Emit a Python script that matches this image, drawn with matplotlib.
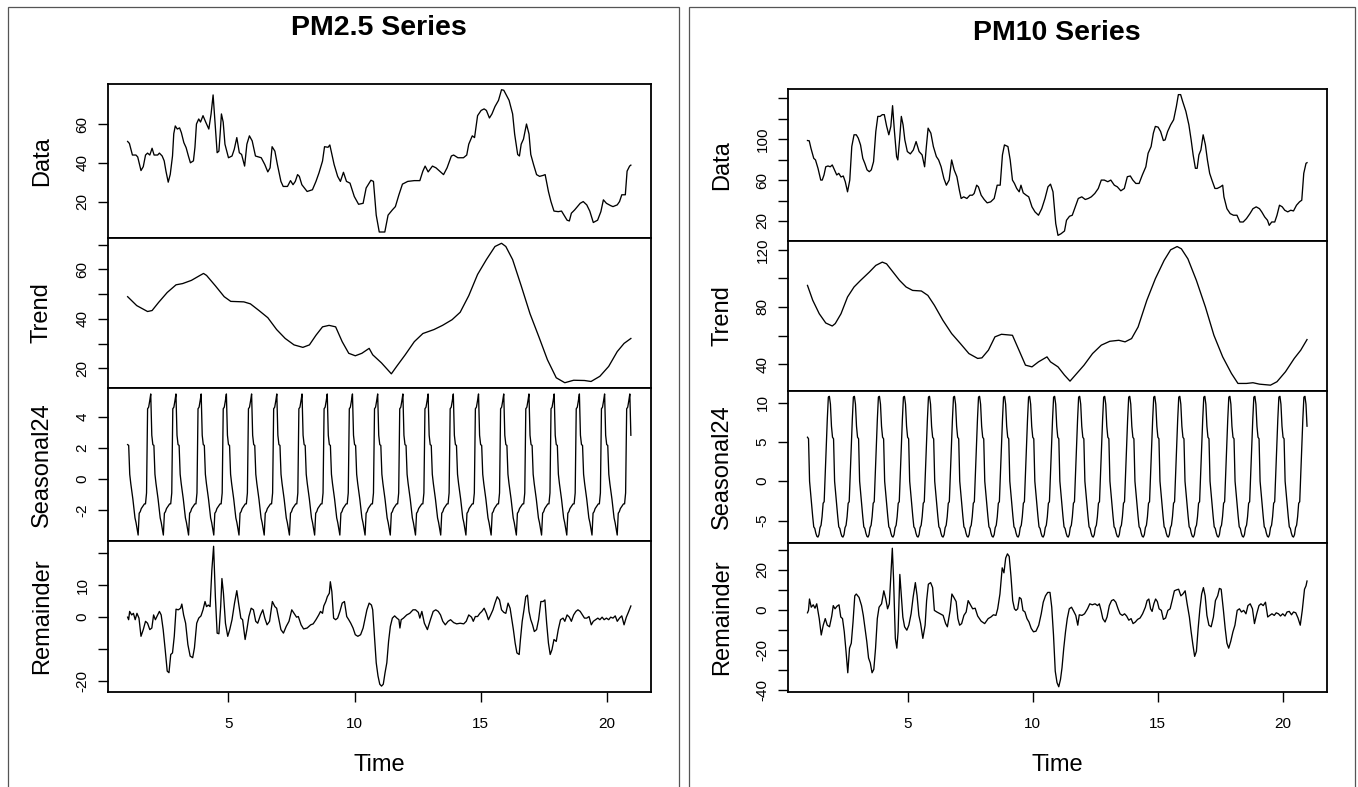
import matplotlib.pyplot as plt
import numpy as np
from matplotlib.patches import Rectangle

plt.rcParams['font.family'] = ['Liberation Sans', 'DejaVu Sans']

# ~~~ STL components (time in days, hourly series, frequency 24) ~~~

pm25_data_t = [1.00, 1.07, 1.19, 1.33, 1.40, 1.53, 1.62, 1.71, 1.79, 1.88, 1.97, 2.05, 2.19, 2.26, 2.37, 2.45,
               2.52, 2.61, 2.69, 2.78, 2.83, 2.89, 2.97, 3.06, 3.13, 3.23, 3.32, 3.41, 3.49, 3.61, 3.67, 3.73,
               3.82, 3.89, 3.99, 4.10, 4.22, 4.31, 4.39, 4.48, 4.55, 4.62, 4.67, 4.72, 4.79, 4.86, 5.00, 5.14,
               5.23, 5.33, 5.43, 5.52, 5.64, 5.73, 5.83, 5.94, 6.07, 6.30, 6.44, 6.56, 6.65, 6.73, 6.84, 6.94,
               7.08, 7.17, 7.34, 7.46, 7.56, 7.65, 7.74, 7.81, 7.91, 8.12, 8.33, 8.47, 8.59, 8.73, 8.81, 8.95,
               9.02, 9.19, 9.33, 9.44, 9.56, 9.68, 9.82, 9.99, 10.16, 10.34, 10.46, 10.65, 10.75, 10.86, 10.98,
               11.20, 11.33, 11.50, 11.62, 11.76, 11.90, 12.11, 12.37, 12.59, 12.71, 12.80, 12.92, 13.09, 13.23,
               13.41, 13.53, 13.67, 13.84, 13.93, 14.10, 14.32, 14.45, 14.53, 14.67, 14.76, 14.88, 15.02, 15.14,
               15.23, 15.35, 15.45, 15.57, 15.71, 15.83, 15.92, 16.06, 16.13, 16.27, 16.35, 16.47, 16.54, 16.61,
               16.70, 16.82, 16.92, 16.99, 17.10, 17.22, 17.34, 17.48, 17.56, 17.69, 17.79, 17.91, 18.08, 18.21,
               18.43, 18.52, 18.60, 18.73, 18.95, 19.07, 19.21, 19.33, 19.47, 19.64, 19.77, 19.87, 19.99, 20.16,
               20.25, 20.42, 20.51, 20.60, 20.74, 20.81, 20.91, 20.96]
pm25_data = [51, 50, 44, 44, 43, 36, 38, 44, 45, 44, 47.5, 44, 44, 45, 43.5, 41,
             35.7, 30, 34, 43.5, 55, 59, 57.4, 58, 55.6, 50.4, 47.8, 43.5, 40, 41, 48, 60,
             62.6, 61, 64.3, 60.9, 57.4, 65.2, 75, 58.3, 45.2, 46, 55, 65.2, 61, 49.6, 42.6, 43.5,
             47, 53, 45.2, 44.3, 38.3, 49.6, 53.9, 51.3, 43.5, 42.6, 39.1, 35.3, 37.4, 48.3, 46, 39.1,
             30.4, 27.8, 27.8, 30.8, 28.7, 30.4, 33.9, 33, 28.7, 25.2, 26.1, 30.4, 34.8, 40.9, 48.3, 48,
             49.2, 39.1, 33, 30.4, 35.1, 30.4, 29.5, 22.6, 18.6, 19.1, 27, 31, 30.4, 13, 4.3,
             4.3, 13, 15.7, 17.4, 23.5, 29, 30.4, 30.8, 30.8, 35.7, 38.3, 35.3, 38.3, 37.4,
             35.3, 33.9, 37.4, 43.5, 44, 42.6, 42.6, 44, 49.6, 53.9, 53, 64.3, 67, 67.8,
             67, 63.1, 65.2, 69, 72.2, 77.7, 77.4, 73.9, 72.2, 65.2, 54.8, 44.3, 43.5, 49.6,
             52.2, 60, 54.8, 44.3, 39.1, 33.9, 33, 33.5, 33.9, 25.2, 20, 15.1, 14.8, 15.1,
             10.4, 10, 14, 15.7, 19.1, 20, 18.3, 15.1, 9.2, 10.4, 14.8, 20.9, 19.1, 17.9,
             17.4, 18.3, 20, 23.5, 23.5, 35.7, 38.3, 38.8]

pm25_trend_t = [1.00, 1.36, 1.79, 1.97, 2.23, 2.57, 2.92, 3.18, 3.53, 3.87, 4.01, 4.13, 4.48, 4.83, 5.09, 5.61,
                5.87, 6.21, 6.56, 6.91, 7.25, 7.60, 7.95, 8.21, 8.47, 8.73, 8.99, 9.25, 9.51, 9.77, 10.03, 10.29,
                10.58, 10.72, 11.07, 11.46, 11.67, 12.01, 12.37, 12.71, 13.15, 13.49, 13.87, 14.19, 14.53, 14.88,
                15.23, 15.57, 15.83, 16.00, 16.27, 16.61, 16.96, 17.31, 17.65, 18.00, 18.34, 18.69, 19.12, 19.38,
                19.73, 20.08, 20.42, 20.69, 20.96]
pm25_trend = [49.0, 45.4, 43.0, 43.4, 46.7, 50.7, 53.8, 54.3, 55.6, 57.6, 58.4, 57.6, 53.4, 49.0, 47.1, 46.9,
              46.1, 43.4, 40.5, 35.7, 32.1, 29.5, 28.5, 29.5, 33.4, 36.8, 37.4, 36.8, 30.8, 26.1, 25.1, 26.1,
              28.1, 25.5, 22.2, 17.8, 20.8, 25.5, 30.8, 34.1, 35.7, 37.4, 39.7, 42.7, 49.4, 58.0,
              64.0, 69.3, 70.6, 69.3, 64.0, 53.4, 42.1, 32.8, 23.5, 16.2, 14.2, 15.2, 15.1, 14.7,
              16.8, 20.8, 26.8, 30.1, 32.1]

# one day of the periodic seasonal component (hours 0..23)
pm25_season_day = [2.2, 2.15, 0.3, -0.3, -0.8, -1.3, -1.9, -2.5, -2.8, -3.2, -3.6, -2.2,
                   -2.1, -1.9, -1.8, -1.7, -1.6, -1.6, -0.9, 4.5, 4.6, 5.0, 5.45, 2.8]

pm25_rem_t = [1.00, 1.04, 1.08, 1.16, 1.23, 1.30, 1.37, 1.45, 1.53, 1.62, 1.71, 1.79, 1.88, 1.96, 2.03, 2.10,
              2.19, 2.26, 2.33, 2.41, 2.49, 2.57, 2.64, 2.71, 2.78, 2.85, 2.92, 3.01, 3.10, 3.15, 3.22, 3.30,
              3.39, 3.48, 3.58, 3.65, 3.74, 3.82, 3.91, 3.99, 4.07, 4.13, 4.20, 4.27, 4.34, 4.41, 4.48, 4.55,
              4.62, 4.69, 4.74, 4.80, 4.88, 4.97, 5.05, 5.14, 5.24, 5.33, 5.40, 5.49, 5.56, 5.66, 5.73, 5.81,
              5.90, 5.99, 6.08, 6.16, 6.27, 6.36, 6.44, 6.53, 6.63, 6.74, 6.84, 6.91, 6.99, 7.08, 7.18, 7.29,
              7.40, 7.51, 7.60, 7.70, 7.77, 7.88, 7.98, 8.12, 8.26, 8.36, 8.47, 8.58, 8.65, 8.73, 8.78, 8.86,
              8.92, 9.00, 9.04, 9.10, 9.17, 9.25, 9.33, 9.42, 9.51, 9.60, 9.69, 9.77, 9.85, 9.94, 10.03, 10.13,
              10.24, 10.34, 10.41, 10.49, 10.58, 10.67, 10.72, 10.79, 10.86, 10.93, 11.00, 11.07, 11.14, 11.21,
              11.28, 11.35, 11.42, 11.50, 11.59, 11.68, 11.76, 11.80, 11.85, 11.94, 12.07, 12.19, 12.32, 12.42,
              12.53, 12.59, 12.67, 12.77, 12.89, 13.01, 13.12, 13.22, 13.32, 13.41, 13.50, 13.60, 13.71, 13.81,
              13.93, 14.05, 14.19, 14.33, 14.43, 14.53, 14.64, 14.71, 14.79, 14.88, 14.97, 15.05, 15.14, 15.23,
              15.31, 15.40, 15.49, 15.57, 15.66, 15.75, 15.83, 15.92, 16.00, 16.09, 16.17, 16.23, 16.30, 16.37,
              16.44, 16.53, 16.58, 16.65, 16.72, 16.79, 16.86, 16.92, 16.99, 17.06, 17.13, 17.22, 17.30, 17.39,
              17.48, 17.55, 17.62, 17.69, 17.76, 17.83, 17.91, 18.00, 18.08, 18.17, 18.27, 18.34, 18.43, 18.52,
              18.60, 18.69, 18.78, 18.86, 18.95, 19.04, 19.12, 19.21, 19.30, 19.39, 19.47, 19.56, 19.65, 19.73,
              19.82, 19.90, 19.99, 20.08, 20.16, 20.25, 20.34, 20.42, 20.51, 20.60, 20.69, 20.78, 20.86, 20.96]
pm25_rem = [0, -0.8, 1.8, 0.7, 1.2, -0.8, 1.2, -0.3, -6.0, -3.9, -1.3, -1.9, -3.9, -3.4, 0.7, -0.8,
            0.7, 1.8, 0.7, -3.9, -10.2, -16.9, -17.4, -11.7, -11.2, -6.0, 2.5, 2.3, 2.8, 4.1, 0.7, -1.9,
            -8.6, -12.2, -12.7, -9.6, -1.9, -0.3, 0.4, 2.3, 4.9, 3.3, 3.8, 3.3, 14.7, 22.2, 6.4, -5.0,
            -5.2, 3.3, 12.1, 7.5, -1.9, -6.0, -3.9, -0.8, 4.4, 8.3, 4.4, -0.3, -0.8, -7.0, -3.9, 0.2,
            2.8, 2.3, -1.3, -1.9, 0.7, 2.3, -0.3, -2.4, -1.3, 4.9, 3.3, 2.8, -0.3, -3.9, -5.0, -2.9,
            -1.3, 2.3, 1.2, 0, 0.2, -2.4, -3.7, -3.4, -2.4, -2.1, -0.8, 0.7, 1.8, 1.2, 3.5, 4.9,
            6.4, 7.5, 11.1, 8.0, -0.3, -0.8, -0.3, 1.8, 4.4, 4.9, 0.2, -0.8, -1.9, -3.4, -5.5, -6.0,
            -5.5, -3.4, -0.8, 2.3, 4.4, 3.8, 2.3, -6.0, -14.3, -18.4, -21.0, -21.6, -21.0, -17.4,
            -14.3, -7.6, -2.9, -0.3, 0.4, -0.3, -0.8, -3.4, -0.8, -0.3, 0.7, 1.2, 2.3, 2.3,
            1.5, -0.3, 1.8, -1.9, -3.9, -0.8, 1.8, 2.3, 1.8, 0.7, -1.3, -2.4, -1.3, -0.8,
            -1.7, -2.1, -1.9, -2.1, -1.3, 0.7, 0, -1.3, 0.2, 0.2, 1.2, 1.8, 2.8, 1.2,
            -0.8, 0.7, 2.3, 4.4, 6.4, 5.4, 2.3, 1.5, 1.2, 4.4, 2.8, -0.3, -3.9, -8.1,
            -11.2, -11.7, -7.0, -1.3, 2.3, 6.4, 6.9, 1.8, -0.8, -2.4, -4.5, -3.9, -0.8, 4.9,
            4.9, 5.4, -1.9, -8.1, -11.7, -10.2, -7.0, -7.6, -3.9, -0.8, -0.3, -1.3, 0.7, 0,
            -1.3, 0.7, 1.8, 2.3, 1.8, 0.7, -0.3, -0.3, 0.2, -2.4, -1.3, -0.8, -0.3, -0.8,
            0, -0.8, -0.3, -0.8, 0, -0.3, 0.4, -1.3, -0.3, 0.4, -2.4, 0, 1.5, 3.5]

pm10_data_t = [1.00, 1.07, 1.14, 1.25, 1.32, 1.42, 1.53, 1.59, 1.66, 1.73, 1.82, 1.91, 1.99, 2.08, 2.17, 2.25,
               2.34, 2.43, 2.51, 2.60, 2.69, 2.77, 2.86, 2.95, 3.03, 3.12, 3.21, 3.29, 3.38, 3.47, 3.55, 3.64,
               3.73, 3.81, 3.90, 3.99, 4.07, 4.16, 4.25, 4.33, 4.40, 4.47, 4.56, 4.61, 4.68, 4.75, 4.82, 4.89,
               4.99, 5.11, 5.23, 5.34, 5.46, 5.58, 5.68, 5.75, 5.82, 5.93, 6.03, 6.15, 6.24, 6.34, 6.45, 6.55,
               6.66, 6.76, 6.86, 6.97, 7.07, 7.14, 7.24, 7.37, 7.49, 7.59, 7.66, 7.76, 7.83, 7.94, 8.06, 8.18,
               8.32, 8.46, 8.58, 8.70, 8.79, 8.87, 9.01, 9.10, 9.19, 9.27, 9.36, 9.46, 9.53, 9.62, 9.74, 9.84,
               9.97, 10.09, 10.23, 10.36, 10.49, 10.61, 10.71, 10.81, 10.92, 11.01, 11.13, 11.27, 11.35, 11.47,
               11.58, 11.70, 11.82, 11.96, 12.10, 12.22, 12.34, 12.48, 12.62, 12.74, 12.86, 13.00, 13.12, 13.26,
               13.38, 13.52, 13.66, 13.78, 13.90, 14.00, 14.12, 14.25, 14.38, 14.52, 14.61, 14.73, 14.82, 14.90,
               15.01, 15.11, 15.22, 15.29, 15.39, 15.51, 15.63, 15.74, 15.82, 15.91, 15.99, 16.12, 16.24, 16.33,
               16.41, 16.50, 16.57, 16.64, 16.72, 16.81, 16.90, 16.98, 17.07, 17.16, 17.28, 17.37, 17.50, 17.59,
               17.64, 17.76, 17.89, 18.02, 18.16, 18.28, 18.41, 18.54, 18.68, 18.80, 18.93, 19.06, 19.15, 19.27,
               19.38, 19.45, 19.55, 19.67, 19.76, 19.86, 19.97, 20.07, 20.19, 20.31, 20.42, 20.54, 20.66, 20.75,
               20.83, 20.92, 20.96]
pm10_data = [98.7, 98.4, 91, 81.3, 79.7, 71.5, 60, 60, 65, 73, 73.8, 73, 74.8, 70, 65, 66.6,
             63, 64, 58.4, 48.5, 60, 92.8, 104.3, 104.3, 101, 94.4, 81.3, 76.4, 70, 68.2, 70, 78,
             107.5, 122.3, 122.3, 124, 124, 113, 104.3, 112.5, 132.8, 109, 83, 79.7, 99.3, 122.3, 114, 99.3,
             87.9, 85.6, 89.5, 97.7, 87.9, 84.6, 73, 92.8, 110.8, 105.9, 92.8, 83, 79.7, 73, 61.6, 55,
             60, 79.7, 70, 63.3, 50, 42, 43.6, 42, 45.2, 45.2, 46.9, 55, 53.4, 45.2, 41, 37.7,
             38.7, 42, 55, 55, 84.6, 94.4, 92.8, 79.7, 60, 56.7, 51.8, 48.5, 55, 47.5, 45.2, 43.6,
             33.8, 28.9, 25.6, 32, 42, 53.4, 56, 48.5, 17.4, 5.9, 7.5, 10.2, 20.7, 24.6,
             25.6, 33.8, 42, 43.6, 41, 42, 43.6, 46.9, 51.8, 60, 60, 58.4, 60, 55,
             53.4, 49.5, 51.8, 63.3, 64, 60, 56.7, 56.7, 65, 73, 86.2, 92.8, 105.9, 112.5,
             111.8, 107.5, 98.7, 99.3, 107.5, 114, 119, 132.1, 143.6, 143.6, 137, 127.2, 114, 99.3,
             84.6, 71.5, 71.5, 84.6, 89.5, 104.3, 94.4, 79.7, 66.6, 60, 51.8, 51.8, 53.4, 55,
             43.6, 32, 27.2, 25.6, 25.6, 19, 19, 22.3, 27.2, 32, 33.8, 32, 28.9, 23.9,
             20.7, 15.7, 19, 19, 25.6, 35.4, 33.8, 30.5, 28.9, 30.5, 29.8, 35.4, 38.7, 40.3,
             66.6, 76.4, 77]

pm10_trend_t = [1.00, 1.21, 1.47, 1.73, 1.99, 2.11, 2.34, 2.60, 2.86, 3.12, 3.47, 3.73, 3.99, 4.16, 4.42, 4.68,
                4.94, 5.20, 5.55, 5.81, 6.07, 6.41, 6.76, 7.11, 7.45, 7.80, 7.97, 8.23, 8.49, 8.75, 9.19, 9.45,
                9.71, 9.97, 10.23, 10.57, 10.71, 11.01, 11.27, 11.49, 11.70, 12.05, 12.39, 12.74, 13.08, 13.44,
                13.69, 13.95, 14.21, 14.56, 14.90, 15.25, 15.51, 15.77, 15.94, 16.20, 16.54, 16.90, 17.24, 17.59,
                17.94, 18.20, 18.54, 18.80, 19.06, 19.50, 19.76, 20.10, 20.45, 20.71, 20.96]
pm10_trend = [95.1, 84.7, 75.3, 68.8, 66.7, 68.4, 75.3, 87.0, 94.0, 98.6, 104.4, 109.1, 111.4, 110.2, 104.4, 98.6,
              94.0, 91.6, 91.2, 88.1, 81.2, 70.7, 61.4, 54.4, 47.4, 44.0, 44.4, 49.8, 59.1, 60.9, 60.2, 49.8,
              39.3, 38.1, 41.6, 45.1, 41.6, 38.1, 32.3, 28.1, 32.3, 39.3, 47.4, 53.3, 56.0, 56.7,
              55.6, 57.9, 66.0, 84.7, 99.8, 112.6, 120.0, 122.3, 120.7, 113.7, 98.6, 80.0, 60.2, 45.1,
              33.5, 26.5, 26.5, 27.0, 26.0, 25.3, 27.7, 34.7, 44.0, 49.8, 57.2]

pm10_season_day = [5.6, 5.4, 0.0, -1.5, -3.0, -4.5, -5.8, -6.0, -6.6, -7.0, -7.1, -6.8,
                   -5.9, -5.6, -4.5, -2.8, -2.6, 1.0, 4.5, 7.9, 10.7, 10.8, 9.8, 7.0]

pm10_rem_t = [1.00, 1.04, 1.08, 1.15, 1.23, 1.30, 1.37, 1.47, 1.55, 1.63, 1.71, 1.79, 1.88, 1.97, 2.03, 2.10,
              2.18, 2.26, 2.33, 2.40, 2.47, 2.54, 2.61, 2.68, 2.75, 2.82, 2.89, 2.95, 3.06, 3.16, 3.23, 3.30,
              3.37, 3.44, 3.51, 3.58, 3.65, 3.72, 3.79, 3.86, 3.96, 4.05, 4.13, 4.20, 4.27, 4.34, 4.39, 4.44,
              4.51, 4.57, 4.62, 4.69, 4.74, 4.81, 4.88, 4.97, 5.05, 5.14, 5.22, 5.31, 5.38, 5.45, 5.52, 5.61,
              5.70, 5.76, 5.83, 5.92, 6.00, 6.07, 6.17, 6.30, 6.42, 6.52, 6.59, 6.70, 6.77, 6.85, 6.94, 7.01,
              7.08, 7.16, 7.25, 7.34, 7.42, 7.51, 7.60, 7.70, 7.80, 7.94, 8.08, 8.22, 8.33, 8.43, 8.53, 8.60,
              8.69, 8.78, 8.85, 8.92, 8.99, 9.06, 9.13, 9.20, 9.27, 9.33, 9.40, 9.47, 9.54, 9.61, 9.69, 9.77,
              9.85, 9.94, 10.03, 10.13, 10.24, 10.34, 10.42, 10.51, 10.60, 10.69, 10.76, 10.83, 10.90, 10.97,
              11.04, 11.11, 11.17, 11.24, 11.31, 11.38, 11.46, 11.55, 11.64, 11.72, 11.80, 11.86, 11.97, 12.07,
              12.19, 12.28, 12.38, 12.49, 12.59, 12.66, 12.73, 12.80, 12.89, 12.97, 13.06, 13.15, 13.23, 13.32,
              13.41, 13.49, 13.58, 13.67, 13.75, 13.84, 13.93, 14.01, 14.10, 14.19, 14.29, 14.39, 14.50, 14.57,
              14.64, 14.71, 14.77, 14.84, 14.91, 14.98, 15.05, 15.14, 15.22, 15.31, 15.40, 15.49, 15.57, 15.66,
              15.75, 15.83, 15.92, 16.00, 16.09, 16.17, 16.26, 16.33, 16.40, 16.47, 16.54, 16.61, 16.68, 16.75,
              16.82, 16.89, 16.96, 17.04, 17.13, 17.22, 17.30, 17.39, 17.46, 17.53, 17.62, 17.69, 17.76, 17.83,
              17.91, 18.00, 18.08, 18.17, 18.26, 18.34, 18.43, 18.52, 18.60, 18.69, 18.78, 18.86, 18.95, 19.04,
              19.12, 19.21, 19.30, 19.39, 19.47, 19.56, 19.65, 19.73, 19.82, 19.90, 19.99, 20.08, 20.16, 20.25,
              20.34, 20.42, 20.51, 20.60, 20.69, 20.77, 20.86, 20.92, 20.96]
pm10_rem = [-1.5, -0.3, 5.4, 1.3, 2.5, 0.8, 3.0, -4.4, -12.6, -7.7, -4.4, -7.7, -8.5, -3.1, 2.1, 0.5,
            1.8, 2.5, -3.6, -4.4, -11.0, -20.8, -31.5, -19.2, -16.7, -6.1, 7.0, 7.9, 6.2, 2.1, -2.8, -9.3,
            -15.9, -24.1, -26.6, -31.5, -29.8, -19.2, -4.4, 1.3, 3.0, 9.5, 5.4, 0.5, 3.0, 19.3, 30.8, 15.2,
            -14.3, -19.2, -11.0, 17.7, 8.7, -3.6, -8.5, -10.2, -7.7, -2.0, 6.2, 13.6, 7.0, -2.8, -6.9, -14.3,
            -7.7, 4.6, 12.8, 13.6, 11.1, -0.3, -1.1, -2.0, -2.8, -6.9, -8.5, -0.3, 7.9, 6.2, 4.1, -4.4,
            -7.7, -6.9, -2.8, -1.1, 4.6, 2.5, 0.5, 0.8, -3.1, -5.7, -6.9, -4.4, -3.6, -2.5, -2.8, 0.5,
            7.9, 21.0, 18.5, 25.9, 28.0, 26.7, 16.9, 4.6, 0.5, -0.3, 0.5, 6.2, 5.4, -0.3, -1.1, -4.4,
            -6.1, -9.3, -11.0, -10.7, -7.7, -2.0, 3.8, 7.0, 8.7, 8.7, 1.3, -12.6, -30.7, -36.4,
            -38.5, -34.8, -29.0, -19.2, -11.0, -4.4, 0.5, 1.3, -0.8, -2.8, -7.7, -2.5, -2.8, -2.0,
            0.5, 3.0, 2.5, 3.0, 2.1, 3.0, -0.3, -4.4, -6.1, -3.6, 2.1, 4.6, 5.1, 3.8,
            0.5, -2.0, -2.8, -2.0, -3.1, -5.2, -4.4, -6.9, -6.1, -4.8, -4.1, -2.0, 1.3, 4.6,
            5.4, 0.5, -0.8, 3.0, 5.4, 4.1, 0.5, -0.3, -4.8, -4.1, -0.3, 0.5, 4.6, 9.5,
            10.0, 10.3, 7.0, 7.9, 9.5, 3.0, -3.6, -11.0, -17.5, -23.3, -20.8, -9.3, 0.5, 7.9,
            11.1, 7.0, -2.8, -7.7, -8.5, -3.6, 4.6, 7.0, 10.7, 10.3, -0.3, -9.3, -16.7, -19.2,
            -15.9, -11.0, -7.7, -0.3, 0.5, -1.1, -0.3, -2.0, 2.1, 3.0, 0.5, -6.9, -2.0, 2.1,
            3.0, 2.1, 3.8, -3.6, -2.8, -2.0, -2.8, -1.5, -2.0, -3.1, -2.0, -3.1, -1.1, -0.8,
            -2.5, -1.1, -1.5, -4.1, -7.7, -0.3, 10.3, 12.0, 14.4]

row_names = ['Data', 'Trend', 'Seasonal24', 'Remainder']

pm25_ticks = [[20, 40, 60], [20, 30, 40, 50, 60, 70], [-2, 0, 2, 4], [-20, -10, 0, 10, 20]]
pm25_ticklabels = [['20', '40', '60'], ['20', '', '40', '', '60', ''], ['-2', '0', '2', '4'],
                   ['-20', '', '0', '10', '']]
pm10_ticks = [[20, 40, 60, 80, 100, 120, 140], [40, 60, 80, 100, 120], [-5, 0, 5, 10],
              [-40, -30, -20, -10, 0, 10, 20, 30]]
pm10_ticklabels = [['20', '', '60', '', '100', '', ''], ['40', '', '80', '', '120'], ['-5', '0', '5', '10'],
                   ['-40', '', '-20', '', '0', '', '20', '']]
x_ticks = [5, 10, 15, 20]

# hourly time axis for the periodic seasonal part: 20 days starting at 1
hours = np.arange(480)
t_hourly = 1 + hours / 24


W, H = 1358, 787
fig = plt.figure(figsize=(W / 100, H / 100), dpi=100)


def fig_box(left, top, right, bottom):
    return [left / W, 1 - bottom / H, (right - left) / W, (bottom - top) / H]


def draw_panel(title, series, ticks, ticklabels, border, x_lr, rows, title_y):
    # thin frame around the whole panel (bottom edge falls off the canvas)
    fig.add_artist(Rectangle((border[0] / W, 1 - border[3] / H), (border[2] - border[0]) / W,
                             (border[3] - border[1]) / H, transform=fig.transFigure,
                             fill=False, edgecolor='#555555', lw=0.9))
    fig.text((x_lr[0] + x_lr[1]) / 2 / W, 1 - title_y / H, title, ha='center', va='center',
             fontsize=20.5, fontweight='bold')
    axes = []
    for i, (t, y) in enumerate(series):
        ax = fig.add_axes(fig_box(x_lr[0], rows[i], x_lr[1], rows[i + 1]))
        ax.plot(t, y, color='black', lw=0.95)
        ax.margins(x=0.04, y=0.04)
        ax.set_yticks(ticks[i])
        ax.set_yticklabels(ticklabels[i])
        ax.tick_params(axis='y', direction='out', length=7, width=1, labelsize=11,
                       labelrotation=90, pad=6)
        for lab in ax.get_yticklabels():
            lab.set_va('center')
        ax.set_ylabel(row_names[i], fontsize=17)
        ax.yaxis.set_label_coords(-65.5 / (x_lr[1] - x_lr[0]), 0.5)
        ax.yaxis.label.set_va('center')
        for sp in ax.spines.values():
            sp.set_linewidth(1.3)
        if i < 3:
            ax.set_xticks([])
        else:
            ax.set_xticks(x_ticks)
            ax.tick_params(axis='x', direction='out', length=7, width=1, labelsize=11, pad=11)
            ax.set_xlabel('Time', fontsize=17)
            ax.xaxis.set_label_coords(0.5, -73 / (rows[4] - rows[3]))
            ax.xaxis.label.set_va('center')
        axes.append(ax)
    return axes


pm25_series = [(pm25_data_t, pm25_data), (pm25_trend_t, pm25_trend),
               (t_hourly, np.tile(pm25_season_day, 20)), (pm25_rem_t, pm25_rem)]
pm10_series = [(pm10_data_t, pm10_data), (pm10_trend_t, pm10_trend),
               (t_hourly, np.tile(pm10_season_day, 20)), (pm10_rem_t, pm10_rem)]

draw_panel('PM2.5 Series', pm25_series, pm25_ticks, pm25_ticklabels,
           border=(8, 7, 679, 792), x_lr=(107.5, 651), rows=[84, 237.7, 388.3, 540.7, 691.7], title_y=28)
draw_panel('PM10 Series', pm10_series, pm10_ticks, pm10_ticklabels,
           border=(689, 7, 1355, 792), x_lr=(787.5, 1327), rows=[89, 241, 390.7, 542.7, 692.3], title_y=33)

plt.savefig('out.png', dpi=100)
